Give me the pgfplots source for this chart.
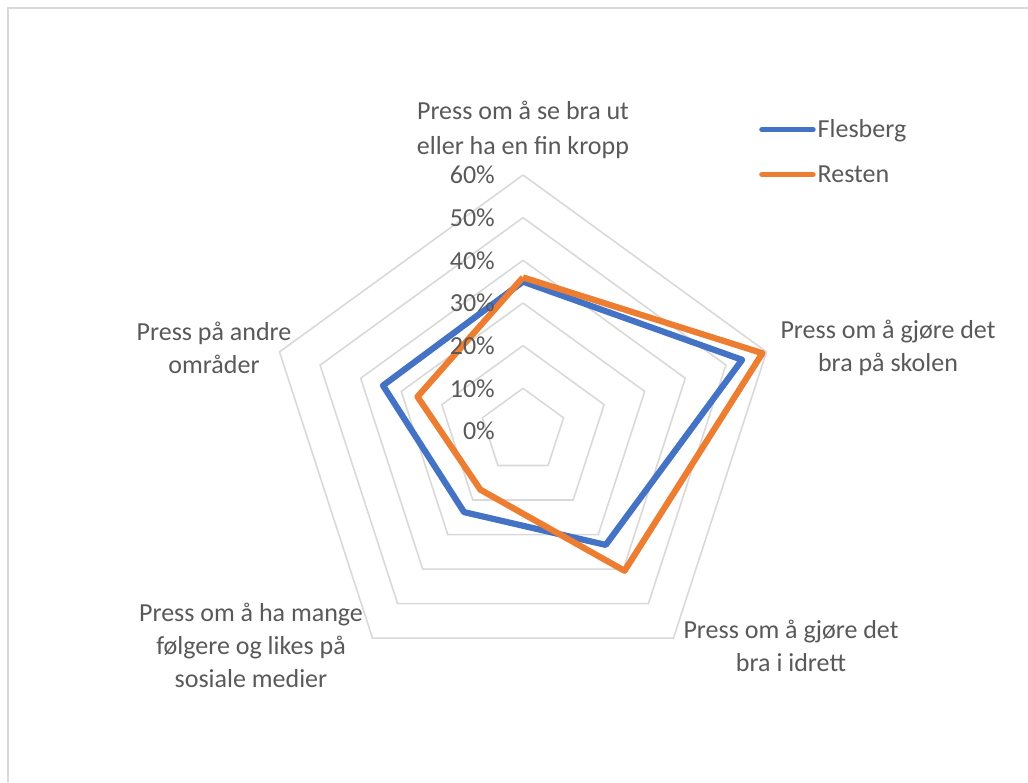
\documentclass[border=0pt]{standalone}
\usepackage{pgfplots}
\pgfplotsset{compat=1.18}
\usepgfplotslibrary{polar}
\usepackage{fontspec}
\setmainfont{Carlito}
\definecolor{txt}{HTML}{595959}
\definecolor{gridc}{HTML}{D9D9D9}
\definecolor{blue1}{HTML}{4472C4}
\definecolor{orange1}{HTML}{ED7D31}
\begin{document}
\begin{tikzpicture}[x=1pt,y=1pt]
\path[use as bounding box] (-523,431) rectangle (505,-351);
\draw[gridc, line width=1.5pt] (-515,-351) -- (-515,423) -- (505,423);
\begin{polaraxis}[at={(0,0)}, anchor=center, width=512pt, height=512pt, scale only axis,
  xmin=0, xmax=360, ymin=0, ymax=60, hide axis, clip=false,
  legend cell align=left,
  legend style={draw=none, fill=none, at={(0.961,1.112)}, anchor=north west,
    font=\fontsize{26}{31}\selectfont\color{txt}, row sep=22pt, inner sep=0pt},
  legend image code/.code={\draw[#1, line width=5.5pt, line cap=round] (0pt,0pt) -- (51pt,0pt);},
]
\pgfplotsinvokeforeach{10,20,30,40,50,60}{
  \addplot[gridc, line width=1.6pt, forget plot] coordinates {(90,#1) (18,#1) (-54,#1) (-126,#1) (162,#1) (90,#1)};
}
\addplot[blue1, line width=6.2pt, line join=round] coordinates {(90,35) (18,54) (-54,33) (-126,23.5) (162,34.5) (90,35)};
\addlegendentry{Flesberg}
\addplot[orange1, line width=6.2pt, line join=round] coordinates {(90,36) (18,59) (-54,40.5) (-126,17) (162,26) (90,36)};
\addlegendentry{Resten}
\end{polaraxis}
\begin{scope}[every node/.style={font=\fontsize{26}{33}\selectfont, text=txt, inner sep=0pt}]
\foreach \v/\r in {0/0,10/42.67,20/85.33,30/128,40/170.67,50/213.33,60/256}{
  \node[anchor=east] at (-28,\r) {\v\%};
}
\node[align=center, font=\fontsize{26}{35}\selectfont] at (0,301) {Press om å se bra ut\\eller ha en fin kropp};
\node[align=center] at (365,83) {Press om å gjøre det\\bra på skolen};
\node[align=center] at (268,-215) {Press om å gjøre det\\bra i idrett};
\node[align=center] at (-272,-214) {Press om å ha mange\\følgere og likes på\\sosiale medier};
\node[align=center] at (-309,83) {Press på andre\\områder};
\end{scope}
\end{tikzpicture}
\end{document}
